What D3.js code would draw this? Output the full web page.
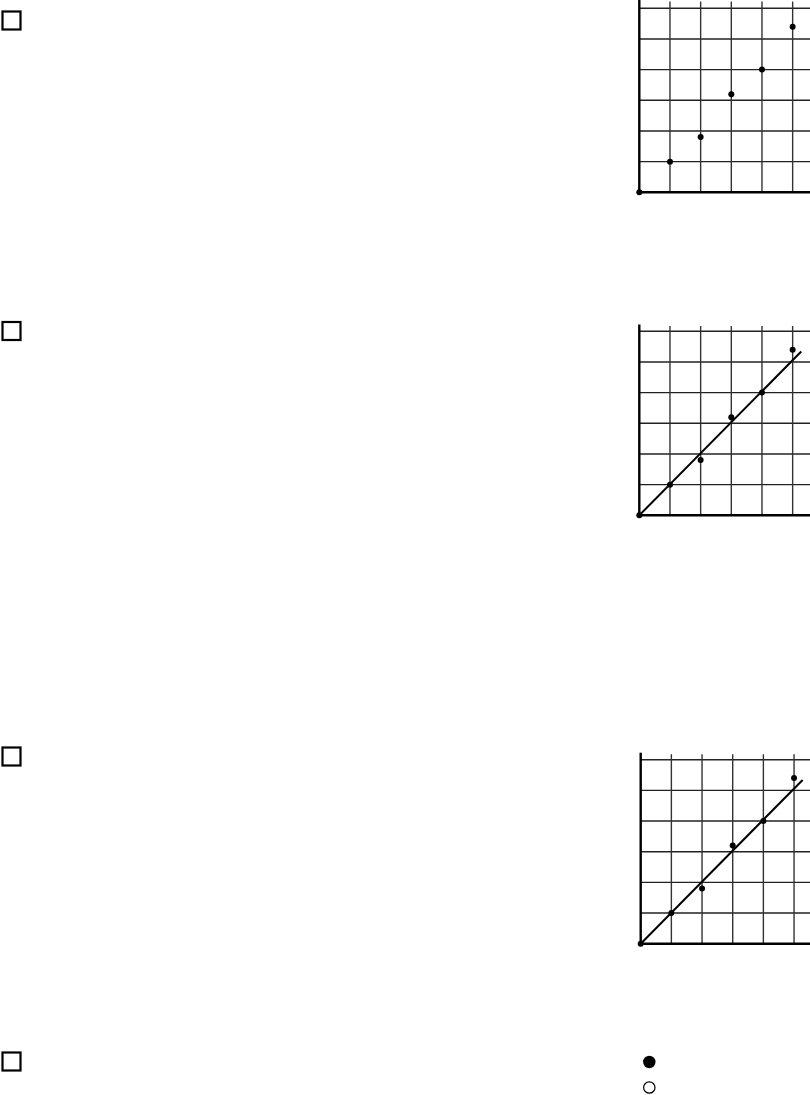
<!DOCTYPE html>
<html>
<head>
<meta charset="utf-8">
<script src="https://cdn.jsdelivr.net/npm/d3@7"></script>
<style>
  html, body { margin: 0; padding: 0; background: #fff; }
  svg { display: block; }
</style>
</head>
<body>
<svg id="chart" width="810" height="1095"></svg>
<script>
// ---- data ----
const xValues = [0, 1, 2, 3, 4, 5];
const yValues = [0, 1, 1.8, 3.2, 4, 5.4];
const fitLine = [[0, 0], [5.28, 5.34]];
const gridX = [1, 2, 3, 4, 5];
const gridY = [1, 2, 3, 4, 5, 6];
const legendKinds = ["filled", "open"];

// ---- layout ----
const panels = [
  { ox: 639.3, oy: 192.3, top: 0,     showLine: false, box: 12 },
  { ox: 639.3, oy: 515.3, top: 324.5, showLine: true,  box: 322.5 },
  { ox: 640.7, oy: 943.7, top: 752.7, showLine: true,  box: 748 }
];
const unit = 30.67;
const rightEdge = 810;

const svg = d3.select("#chart");

function checkbox(yTop) {
  svg.append("rect").attr("x", 2.5).attr("y", yTop - 0.5).attr("width", 18).attr("height", 18)
    .attr("fill", "none").attr("stroke", "#000").attr("stroke-width", 2.2);
}

panels.forEach(p => {
  const x = d3.scaleLinear().domain([0, 1]).range([p.ox, p.ox + unit]);
  const y = d3.scaleLinear().domain([0, 1]).range([p.oy, p.oy - unit]);
  const yTop = y.invert(p.top);
  const g = svg.append("g");

  // horizontal grid
  g.selectAll(".hg").data(gridY).join("line")
    .attr("x1", p.ox).attr("x2", rightEdge)
    .attr("y1", d => y(d)).attr("y2", d => y(d))
    .attr("stroke", "#222").attr("stroke-width", 1.4);
  // vertical grid
  g.selectAll(".vg").data(gridX).join("line")
    .attr("x1", d => x(d)).attr("x2", d => x(d))
    .attr("y1", p.oy).attr("y2", y(yTop - 0.05))
    .attr("stroke", "#333").attr("stroke-width", 1.4);
  // axes
  g.append("line").attr("x1", p.ox).attr("x2", p.ox)
    .attr("y1", p.oy).attr("y2", p.top)
    .attr("stroke", "#000").attr("stroke-width", 2.4);
  g.append("line").attr("x1", p.ox).attr("x2", rightEdge)
    .attr("y1", p.oy).attr("y2", p.oy)
    .attr("stroke", "#000").attr("stroke-width", 2.4);

  if (p.showLine) {
    g.append("path").datum(fitLine)
      .attr("d", d3.line().x(d => x(d[0])).y(d => y(d[1])))
      .attr("fill", "none").attr("stroke", "#000").attr("stroke-width", 2);
  }

  g.selectAll(".pt").data(xValues).join("circle")
    .attr("cx", d => x(d)).attr("cy", (d, i) => y(yValues[i]))
    .attr("r", 3)
    .attr("fill", "#000");

  checkbox(p.box);
});

// fourth checkbox
checkbox(1053);

// legend markers
const ly = d3.scalePoint().domain(legendKinds).range([1062, 1087.5]);
svg.selectAll(".leg").data(legendKinds).join("circle")
  .attr("cx", 649.3).attr("cy", d => ly(d))
  .attr("r", d => d === "filled" ? 6.2 : 5.7)
  .attr("fill", d => d === "filled" ? "#000" : "#fff")
  .attr("stroke", "#000").attr("stroke-width", d => d === "filled" ? 0 : 1.2);
</script>
</body>
</html>
